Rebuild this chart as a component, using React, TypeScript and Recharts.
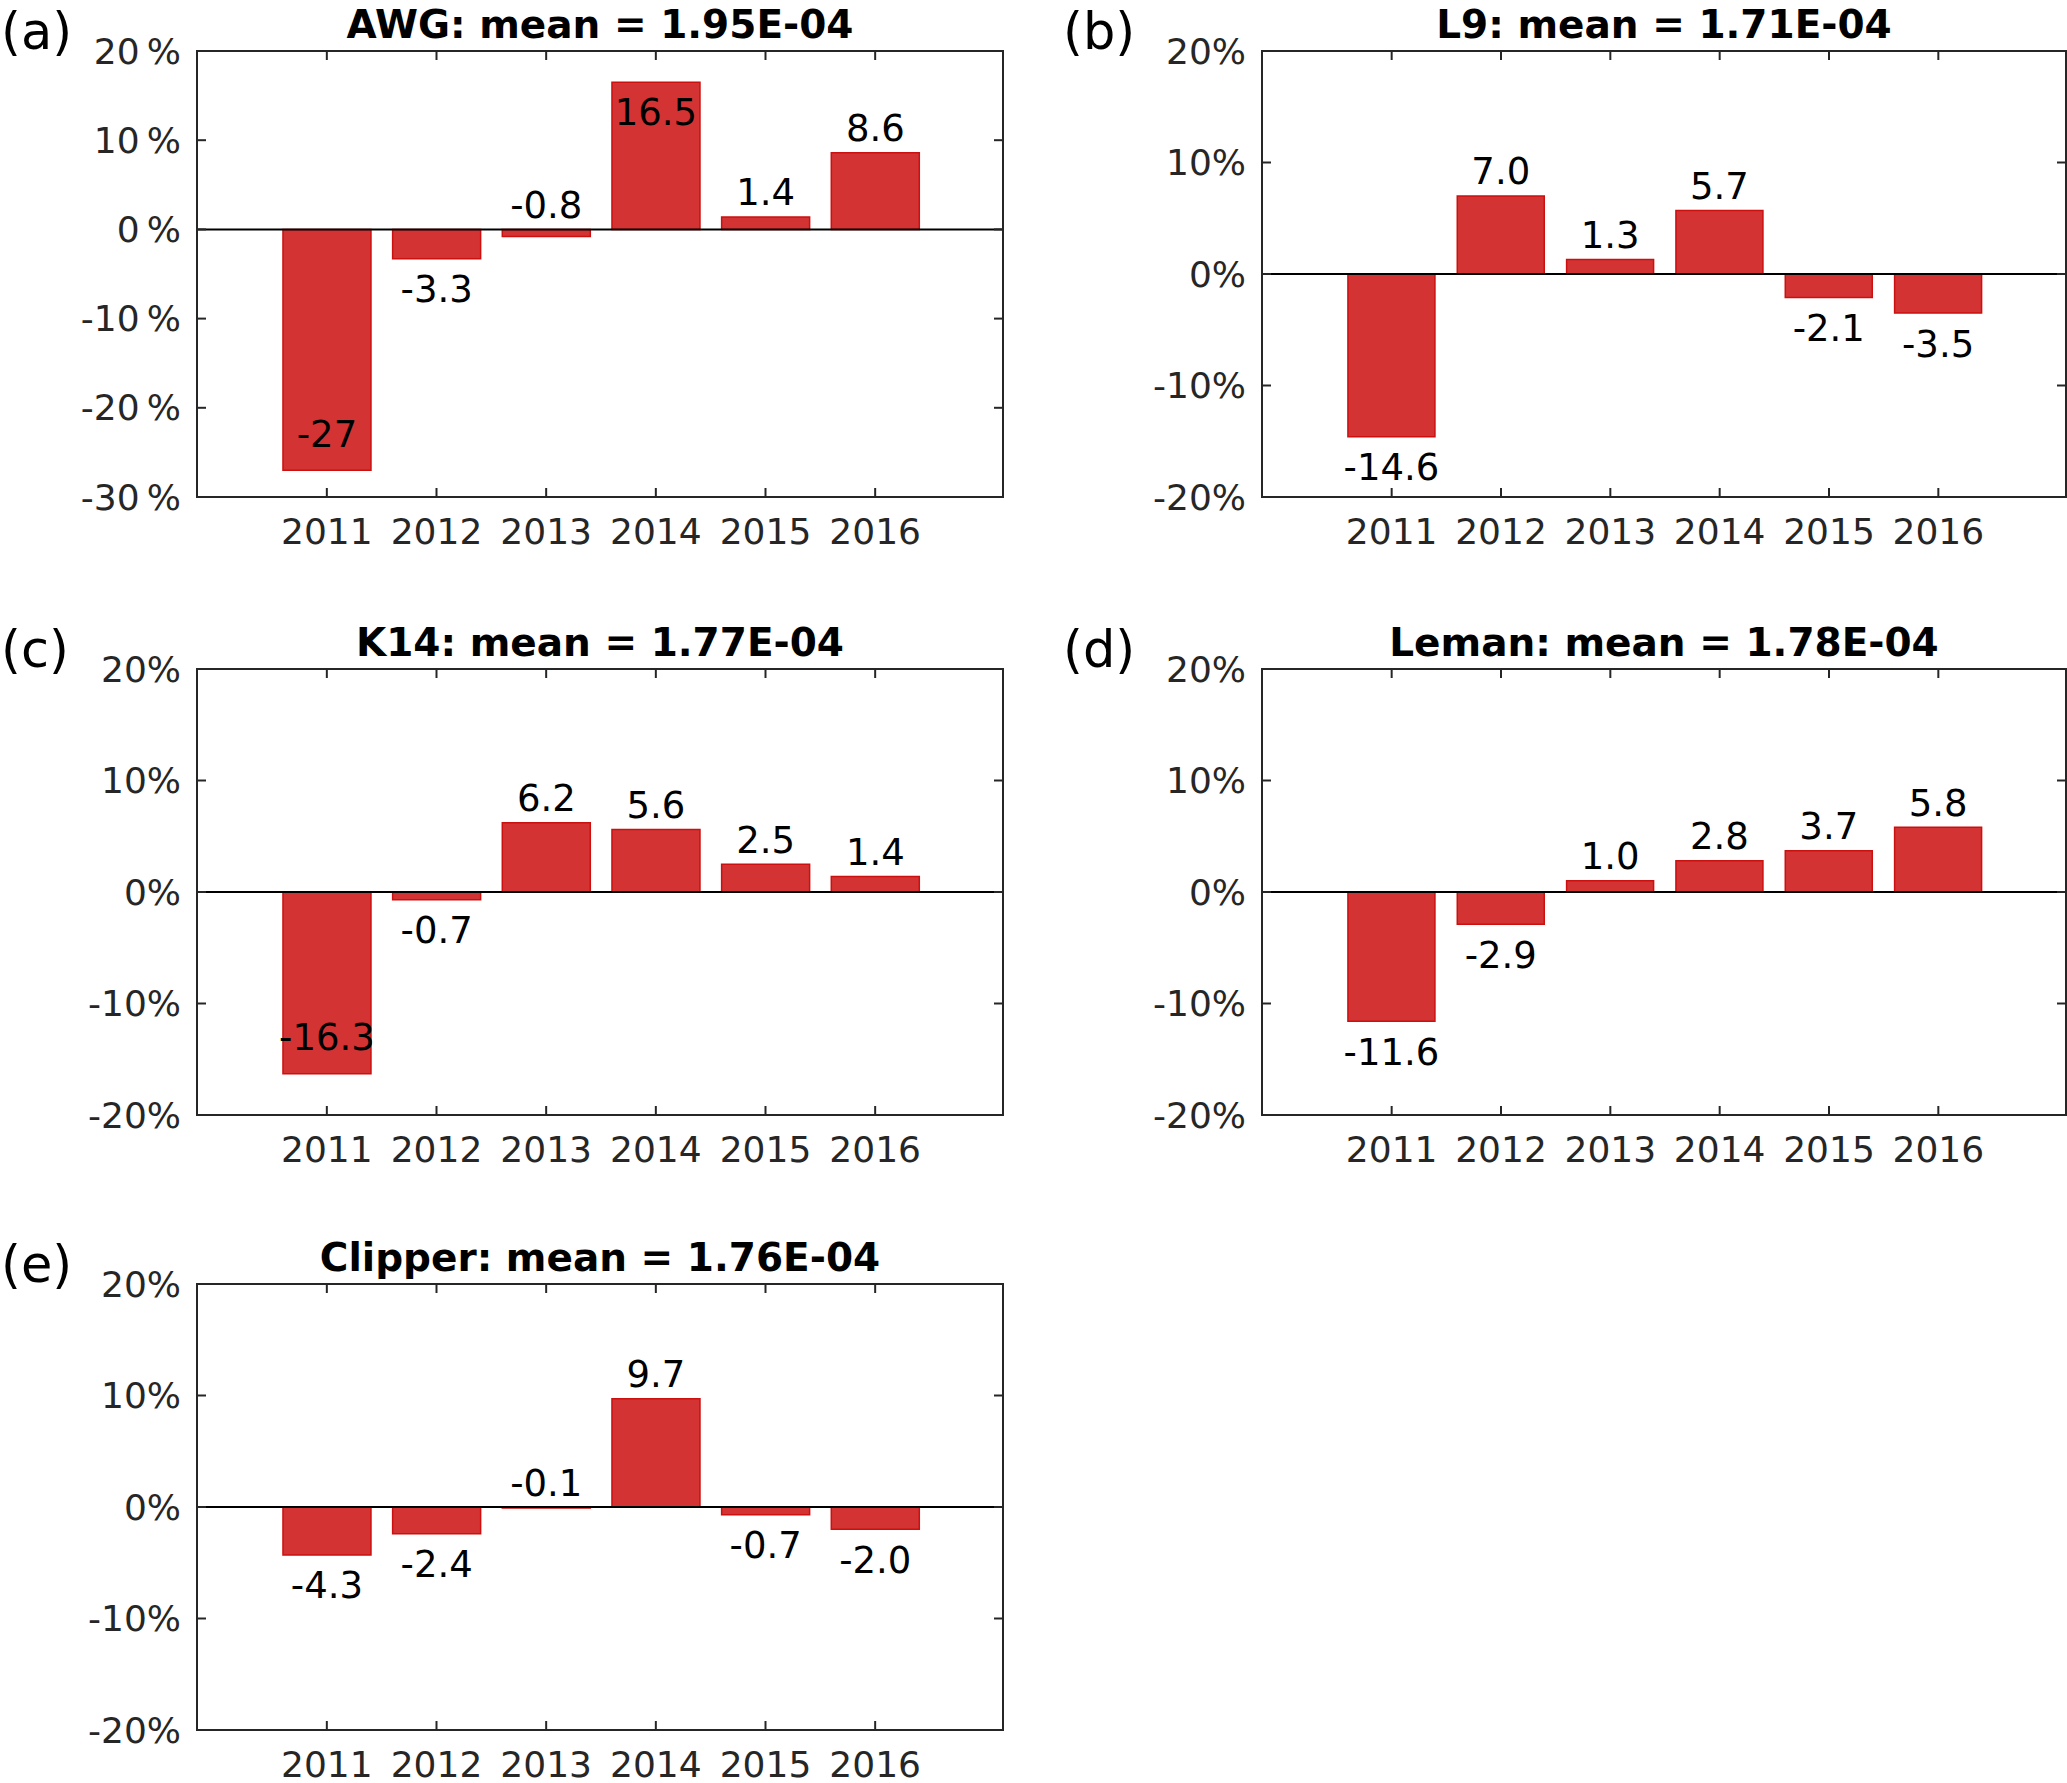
import React from "react";
import { BarChart, Bar, XAxis, YAxis, ReferenceLine, LabelList } from "recharts";

const years = ["2011", "2012", "2013", "2014", "2015", "2016"];

const awg = [-27, -3.3, -0.8, 16.5, 1.4, 8.6];
const l9 = [-14.6, 7.0, 1.3, 5.7, -2.1, -3.5];
const k14 = [-16.3, -0.7, 6.2, 5.6, 2.5, 1.4];
const leman = [-11.6, -2.9, 1.0, 2.8, 3.7, 5.8];
const clipper = [-4.3, -2.4, -0.1, 9.7, -0.7, -2.0];

const awgTicks = [-30, -20, -10, 0, 10, 20];
const stdTicks = [-20, -10, 0, 10, 20];

const FONT = "DejaVu Sans";
const AXIS = "#262626";
const BAR_FILL = "#D43333";
const BAR_EDGE = "#CC1010";

// plot area geometry (inside each chart)
const PLOT_TOP = 51;
const PLOT_H = 446;
const X_AXIS_H = 60;
const CHART_H = PLOT_TOP + PLOT_H + X_AXIS_H + 4;

const panels = [
  { id: "(a)", title: "AWG: mean = 1.95E-04", values: awg, ticks: awgTicks, col: 0, top: 0, spaced: true, above: [2] },
  { id: "(b)", title: "L9: mean = 1.71E-04", values: l9, ticks: stdTicks, col: 1, top: 0, spaced: false, above: [] },
  { id: "(c)", title: "K14: mean = 1.77E-04", values: k14, ticks: stdTicks, col: 0, top: 618, spaced: false, above: [] },
  { id: "(d)", title: "Leman: mean = 1.78E-04", values: leman, ticks: stdTicks, col: 1, top: 618, spaced: false, above: [] },
  { id: "(e)", title: "Clipper: mean = 1.76E-04", values: clipper, ticks: stdTicks, col: 0, top: 1233, spaced: false, above: [2] },
];

const cols = [
  { left: 0, yw: 197, width: 1010, mr: 7 },
  { left: 1062, yw: 200, width: 1005, mr: 1 },
];

const fmtValue = (v: number) => (Math.abs(v) >= 20 ? v.toFixed(0) : v.toFixed(1));

const Panel = ({ p }: { p: (typeof panels)[number] }) => {
  const c = cols[p.col];
  const plotW = c.width - c.yw - c.mr;
  const data = years.map((y, i) => ({ year: y, value: p.values[i] }));
  const dom: [number, number] = [p.ticks[0], p.ticks[p.ticks.length - 1]];

  const yTick = (props: any) => {
    const { x, y, payload } = props;
    return (
      <g>
        <line x1={x} x2={x + 9} y1={y} y2={y} stroke={AXIS} strokeWidth={2} />
        <line x1={x + plotW - 9} x2={x + plotW} y1={y} y2={y} stroke={AXIS} strokeWidth={2} />
        <text x={x - 16} y={y} textAnchor="end" dominantBaseline="central" fontSize={36} fontFamily={FONT} fill={AXIS}>
          {`${payload.value}${p.spaced ? "\u2009" : ""}%`}
        </text>
      </g>
    );
  };

  const xTick = (props: any) => {
    const { x, y, payload } = props;
    return (
      <g>
        <line x1={x} x2={x} y1={y} y2={y - 9} stroke={AXIS} strokeWidth={2} />
        <line x1={x} x2={x} y1={y - PLOT_H} y2={y - PLOT_H + 9} stroke={AXIS} strokeWidth={2} />
        <text x={x} y={y + 34} textAnchor="middle" dominantBaseline="central" fontSize={36} fontFamily={FONT} fill={AXIS}>
          {payload.value}
        </text>
      </g>
    );
  };

  const valueLabel = (props: any) => {
    const { x, y, width, height, value, index } = props;
    const top = Math.min(y, y + height);
    const bottom = Math.max(y, y + height);
    let cy: number;
    if (value >= 0 || p.above.includes(index)) {
      cy = top - 24;
      if (cy - 14 < PLOT_TOP) cy = top + 30;
    } else {
      cy = bottom + 31;
      if (cy + 14 > PLOT_TOP + PLOT_H) cy = bottom - 36;
    }
    return (
      <text x={x + width / 2} y={cy} textAnchor="middle" dominantBaseline="central" fontSize={37} fontFamily={FONT} fill="#000">
        {fmtValue(value)}
      </text>
    );
  };

  return (
    <div style={{ position: "absolute", left: c.left, top: p.top }}>
      <BarChart
        width={c.width}
        height={CHART_H}
        data={data}
        margin={{ top: PLOT_TOP, right: c.mr, bottom: 4, left: 0 }}
        barCategoryGap="10%"
      >
        <XAxis
          dataKey="year"
          height={X_AXIS_H}
          padding={{ left: 75, right: 73 }}
          axisLine={false}
          tickLine={false}
          tickSize={0}
          tickMargin={0}
          interval={0}
          tick={xTick}
        />
        <YAxis
          type="number"
          domain={dom}
          ticks={p.ticks}
          width={c.yw}
          allowDataOverflow
          axisLine={false}
          tickLine={false}
          tickSize={0}
          tickMargin={0}
          interval={0}
          tick={yTick}
        />
        <Bar dataKey="value" fill={BAR_FILL} stroke={BAR_EDGE} strokeWidth={1.5} isAnimationActive={false}>
          <LabelList dataKey="value" content={valueLabel} />
        </Bar>
        <ReferenceLine y={0} stroke="#000" strokeWidth={2} />
      </BarChart>
    </div>
  );
};

export default function App() {
  return (
    <div style={{ position: "absolute", left: 0, top: 0, width: 2067, height: 1783, background: "#fff" }}>
      {panels.map((p) => (
        <Panel key={p.id} p={p} />
      ))}
      <svg width={2067} height={1783} style={{ position: "absolute", left: 0, top: 0, pointerEvents: "none" }}>
        {panels.map((p) => {
          const c = cols[p.col];
          const plotL = c.left + c.yw;
          const plotW = c.width - c.yw - c.mr;
          const plotT = p.top + PLOT_TOP;
          return (
            <g key={p.id}>
              <rect x={plotL} y={plotT} width={plotW} height={PLOT_H} fill="none" stroke={AXIS} strokeWidth={2} />
              <text x={plotL + plotW / 2} y={plotT - 27} textAnchor="middle" dominantBaseline="central" fontSize={39} fontWeight="bold" fontFamily={FONT} fill="#000">
                {p.title}
              </text>
              <text x={Math.max(1, plotL - 199)} y={plotT - 2} fontSize={51} fontFamily={FONT} fill="#000">
                {p.id}
              </text>
            </g>
          );
        })}
      </svg>
    </div>
  );
}
